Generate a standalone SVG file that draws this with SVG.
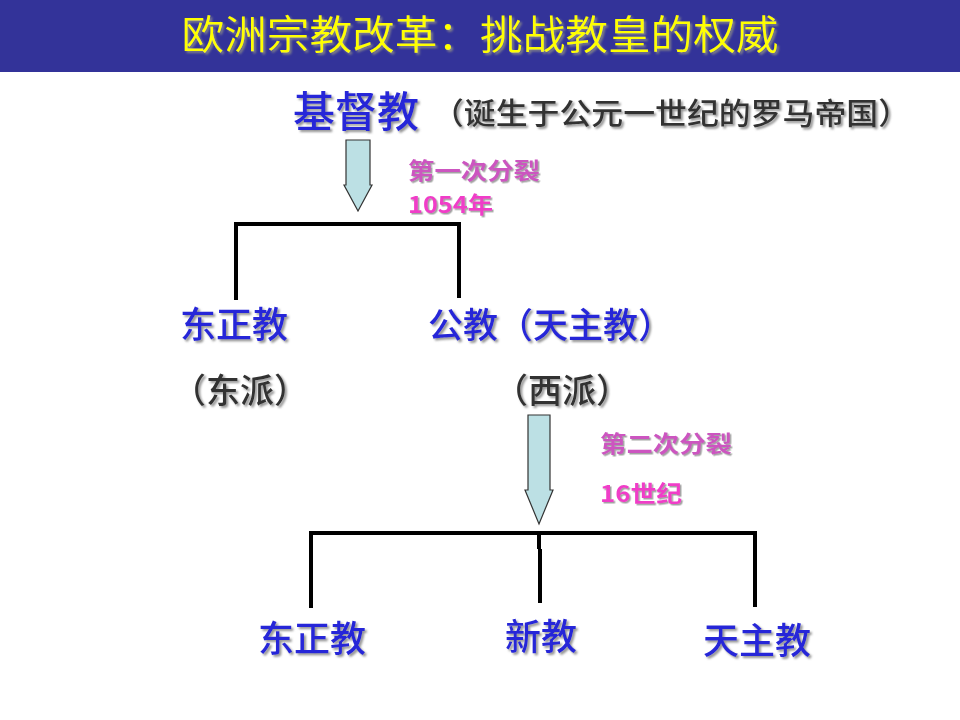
<svg xmlns="http://www.w3.org/2000/svg" width="960" height="720" viewBox="0 0 960 720">
<style>
.t{font-family:"Noto Sans CJK SC","Noto Sans",sans-serif}
.title{font-size:40px;fill:#FFFF00;font-weight:350;filter:url(#sh)}
.blue{fill:#2828D8;font-weight:500;filter:url(#sh)}
.grey{fill:#333333;font-weight:500;filter:url(#sh)}
.pink1{fill:#CC55C0;font-weight:700;font-size:23px;filter:url(#sh2)}
.pink2{fill:#F03CC8;font-weight:700;font-size:23px;filter:url(#sh2)}
.line{stroke:#000;stroke-width:4;fill:none}
.arr{fill:#BCE0E4;stroke:#333;stroke-width:1.2}
</style>
<defs>
<filter id="sh" x="-10%" y="-20%" width="130%" height="150%">
<feDropShadow dx="2" dy="2" stdDeviation="0.8" flood-color="#888" flood-opacity="0.9"/>
</filter>
<filter id="sh2" x="-10%" y="-20%" width="130%" height="150%">
<feDropShadow dx="1.5" dy="1.5" stdDeviation="0.6" flood-color="#999" flood-opacity="0.9"/>
</filter>
</defs>
<rect x="0" y="0" width="960" height="72" fill="#333399"/>
<text class="t title" x="480" y="49" text-anchor="middle" textLength="597" lengthAdjust="spacingAndGlyphs">欧洲宗教改革：挑战教皇的权威</text>

<g id="connectors">
<path class="line" d="M236,300 V224 H459 V298"/>
<path class="line" d="M311,608 V533 H755 V607"/>
<path class="line" d="M539,533 V549 M540,549 V603"/>
<path class="arr" d="M346,140 H370 V185 H372 L358,211 L344,185 H346 Z"/>
<path class="arr" d="M528,415 H550 V490 H553 L539,524 L525,490 H528 Z"/>
</g>

<g id="n-jidujiao">
<text class="t blue" x="293" y="127" font-size="42">基督教</text>
<text class="t grey" x="432" y="124" font-size="30" textLength="478" lengthAdjust="spacingAndGlyphs">（诞生于公元一世纪的罗马帝国）</text>
</g>
<g id="split1">
<text class="t pink1" x="408" y="179" textLength="132" lengthAdjust="spacingAndGlyphs">第一次分裂</text>
<text class="t pink2" x="408" y="213" textLength="85" lengthAdjust="spacingAndGlyphs">1054年</text>
</g>
<g id="n-dongzhengjiao1">
<text class="t blue" x="180" y="338" font-size="36">东正教</text>
<text class="t grey" x="172" y="403" font-size="34">（东派）</text>
</g>
<g id="n-gongjiao">
<text class="t blue" x="428" y="338" font-size="35">公教（天主教）</text>
<text class="t grey" x="494" y="403" font-size="34">（西派）</text>
</g>
<g id="split2">
<text class="t pink1" x="600" y="452" textLength="132" lengthAdjust="spacingAndGlyphs">第二次分裂</text>
<text class="t pink2" x="600" y="502" textLength="82" lengthAdjust="spacingAndGlyphs">16世纪</text>
</g>
<g id="n-dongzhengjiao2">
<text class="t blue" x="258" y="652" font-size="36">东正教</text>
</g>
<g id="n-xinjiao">
<text class="t blue" x="505" y="650" font-size="36">新教</text>
</g>
<g id="n-tianzhujiao">
<text class="t blue" x="703" y="654" font-size="36">天主教</text>
</g>
</svg>
